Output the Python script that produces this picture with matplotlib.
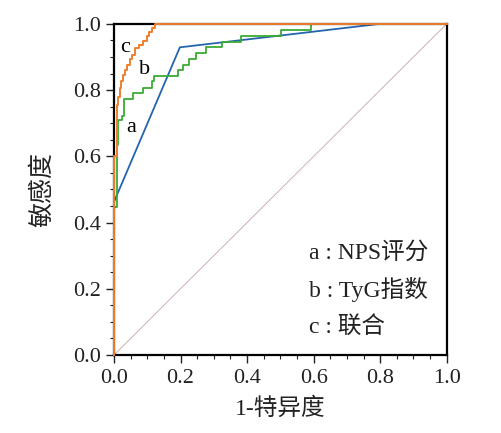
import matplotlib
matplotlib.use("Agg")
import matplotlib.pyplot as plt
from matplotlib.ticker import MultipleLocator

plt.rcParams['font.family'] = ['Liberation Serif', 'Noto Sans CJK SC']

# ROC curves (step vertices, steps-post)
fpr_a = [0, 0, 0.198, 0.80, 1.0]
tpr_a = [0, 0.462, 0.929, 1.0, 1.0]

fpr_b = [0, 0, 0.008, 0.013, 0.023, 0.030, 0.056, 0.088, 0.113, 0.120,
         0.193, 0.208, 0.226, 0.248, 0.278, 0.326, 0.383, 0.503, 0.592, 1.0]
tpr_b = [0, 0.448, 0.634, 0.710, 0.722, 0.772, 0.790, 0.806, 0.826, 0.843,
         0.861, 0.876, 0.893, 0.911, 0.929, 0.944, 0.962, 0.982, 1.0, 1.0]

fpr_c = [0, 0, 0.008, 0.013, 0.017, 0.021, 0.026, 0.032, 0.039, 0.047,
         0.055, 0.063, 0.075, 0.088, 0.098, 0.106, 0.114, 0.123, 1.0]
tpr_c = [0, 0.600, 0.755, 0.780, 0.806, 0.826, 0.846, 0.861, 0.876, 0.893,
         0.905, 0.926, 0.937, 0.947, 0.962, 0.975, 0.987, 1.0, 1.0]

legend_lines = ["a : NPS评分", "b : TyG指数", "c : 联合"]

fig = plt.figure(figsize=(5.02, 4.33), dpi=100)
ax = fig.add_axes([0.227, 0.180, 0.663, 0.765])

ax.plot([0, 1], [0, 1], color='#c8a4a4', lw=0.6, zorder=1)
ax.plot(fpr_a, tpr_a, color='#2565ad', lw=1.3, zorder=3)
ax.step(fpr_b, tpr_b, where='post', color='#3aaa35', lw=1.3, zorder=4)
ax.step(fpr_c, tpr_c, where='post', color='#ee7f2d', lw=1.4, zorder=6, clip_on=False)

ax.text(0.018, 0.93, "c", fontsize=16, va='center')
ax.text(0.076, 0.862, "b", fontsize=16, va='center')
ax.text(0.038, 0.688, "a", fontsize=16, va='center')

for i, s in enumerate(legend_lines):
    ax.text(0.585, 0.310 - i * 0.113, s, fontsize=17, va='center', color='#222222')

ax.set_xlim(0, 1)
ax.set_ylim(0, 1)
ax.xaxis.set_major_locator(MultipleLocator(0.2))
ax.yaxis.set_major_locator(MultipleLocator(0.2))
ax.xaxis.set_minor_locator(MultipleLocator(0.05))
ax.yaxis.set_minor_locator(MultipleLocator(0.05))
ax.tick_params(which='major', direction='out', length=6, width=1, labelsize=16, pad=3,
               colors='#222222')
ax.tick_params(axis='x', which='major', pad=4)
ax.tick_params(which='minor', direction='out', length=3, width=0.8, colors='#222222')
for sp in ax.spines.values():
    sp.set_linewidth(1.6)
    sp.set_color('black')
    sp.set_zorder(5)

ax.set_xlabel("1-特异度", fontsize=17, color='#222222', labelpad=7)
ax.set_ylabel("敏感度", fontsize=18, color='#222222', labelpad=14)

fig.savefig("out.png", dpi=100)
